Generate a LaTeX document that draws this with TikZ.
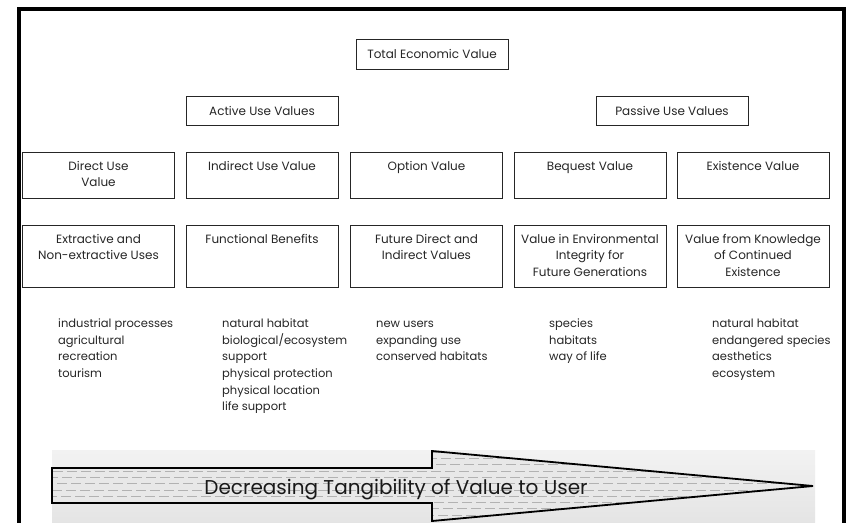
\documentclass[tikz,border=0pt]{standalone}
\usepackage{fontspec}
\setmainfont{Poppins}
\begin{document}
\begin{tikzpicture}[x=1pt,y=-1pt,
  box/.style={draw=black!85, line width=0.9pt, minimum width=152pt, inner sep=0pt, text=black!85, font=\fontsize{12}{16.5}\selectfont},
  btext/.style={anchor=north, align=center, inner sep=0pt, font=\fontsize{12}{16.5}\selectfont, text=black!85},
  ltext/.style={anchor=north west, align=left, inner sep=0pt, font=\fontsize{11.5}{16.7}\selectfont, text=black!85},
  frame/.style={line width=4pt, line join=miter},
  hatch/.style={gray!60, line width=0.6pt, dash pattern=on 10pt off 4pt},
  arrowline/.style={line width=1.8pt, line join=miter}]
\useasboundingbox (0,0) rectangle (850,522);
\fill[white] (0,0) rectangle (850,522);
% frame
\draw[frame] (19,540) -- (19,9) -- (843.5,9) -- (843.5,540);
% top level
\node[box, minimum height=30pt] (tev) at (432,54) {Total Economic Value};
\node[box, minimum height=29pt] (active) at (262,110.5) {Active Use Values};
\node[box, minimum height=29pt] (passive) at (672,110.5) {Passive Use Values};
% row 3
\node[box, minimum height=46pt] (direct) at (98.5,175) {};
\node[box, minimum height=46pt] (indirect) at (262,175) {};
\node[box, minimum height=46pt] (option) at (426.5,175) {};
\node[box, minimum height=46pt] (bequest) at (590,175) {};
\node[box, minimum height=46pt] (existence) at (753,175) {};
\node[btext] (directt) at ([yshift=-9.5pt]direct.north) {Direct Use\\Value};
\node[btext] (indirectt) at ([yshift=-9.5pt]indirect.north) {Indirect Use Value};
\node[btext] (optiont) at ([yshift=-9.5pt]option.north) {Option Value};
\node[btext] (bequestt) at ([yshift=-9.5pt]bequest.north) {Bequest Value};
\node[btext] (existencet) at ([yshift=-9.5pt]existence.north) {Existence Value};
% row 4
\node[box, minimum height=62pt] (extr) at (98.5,256) {};
\node[box, minimum height=62pt] (func) at (262,256) {};
\node[box, minimum height=62pt] (future) at (426.5,256) {};
\node[box, minimum height=62pt] (integ) at (590,256) {};
\node[box, minimum height=62pt] (know) at (753,256) {};
\node[btext] (extrt) at ([yshift=-9.5pt]extr.north) {Extractive and\\Non-extractive Uses};
\node[btext] (funct) at ([yshift=-9.5pt]func.north) {Functional Benefits};
\node[btext] (futuret) at ([yshift=-9.5pt]future.north) {Future Direct and\\Indirect Values};
\node[btext] (integt) at ([yshift=-9.5pt]integ.north) {Value in Environmental\\Integrity for\\Future Generations};
\node[btext] (knowt) at ([yshift=-9.5pt]know.north) {Value from Knowledge\\of Continued\\Existence};
% lists
\node[ltext] (l1) at (58,315.5) {\strut industrial processes\\agricultural\\recreation\\tourism};
\node[ltext] (l2) at (222,315.5) {\strut natural habitat\\biological/ecosystem\\support\\physical protection\\physical location\\life support};
\node[ltext] (l3) at (376,315.5) {\strut new users\\expanding use\\conserved habitats};
\node[ltext] (l4) at (549,315.5) {\strut species\\habitats\\way of life};
\node[ltext] (l5) at (712,315.5) {\strut natural habitat\\endangered species\\aesthetics\\ecosystem};
% arrow
\shade[top color=gray!10, bottom color=gray!22] (52,450) rectangle (815,530);
\coordinate (a1) at (52,468);
\coordinate (a2) at (432,468);
\coordinate (a3) at (432,451);
\coordinate (tip) at (813,486);
\coordinate (a5) at (432,521);
\coordinate (a6) at (432,503);
\coordinate (a7) at (52,503);
\begin{scope}
\clip (a1) -- (a2) -- (a3) -- (tip) -- (a5) -- (a6) -- (a7) -- cycle;
\fill[gray!18] (40,440) rectangle (820,530);
\foreach \i in {0,...,11} {
  \pgfmathsetmacro\ph{mod(\i*5,14)}
  \draw[hatch, dash phase=\ph pt] (40,452+\i*6.3) -- (820,452+\i*6.3);
}
\end{scope}
\draw[arrowline] (a1) -- (a2) -- (a3) -- (tip) -- (a5) -- (a6) -- (a7) -- cycle;
\node[font=\fontsize{20}{24}\selectfont, text=black!90, inner sep=0pt] (label) at (396,490) {Decreasing Tangibility of Value to User};
\end{tikzpicture}
\end{document}
